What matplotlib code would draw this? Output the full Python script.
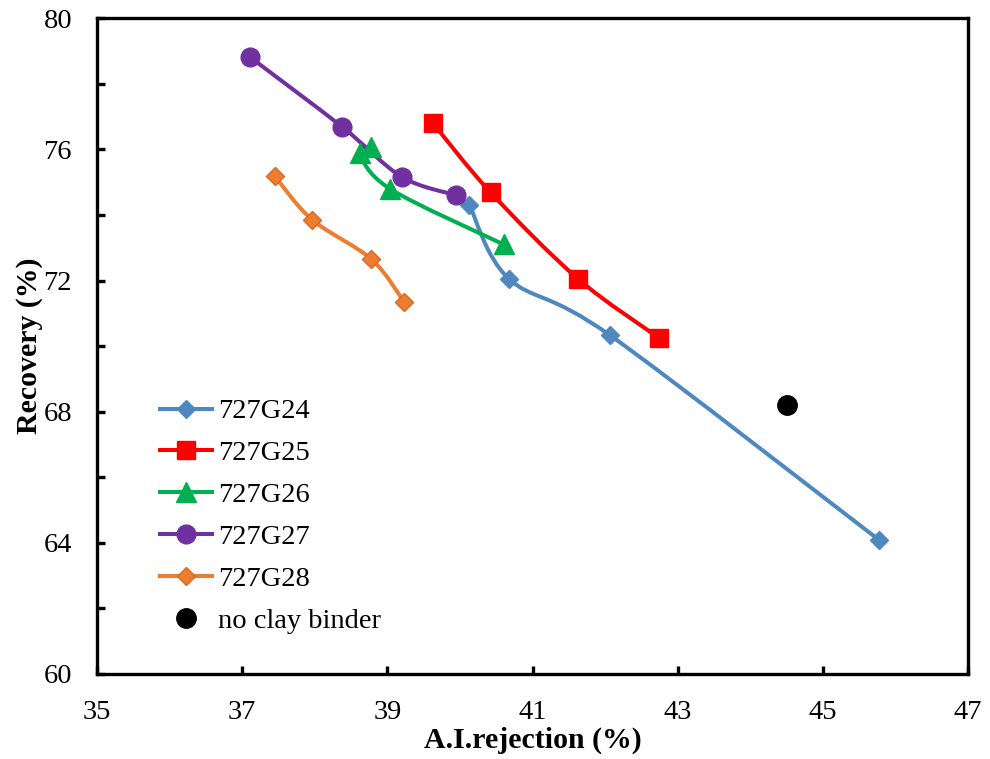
import matplotlib
matplotlib.use("Agg")
import matplotlib.pyplot as plt
import numpy as np
from matplotlib.path import Path
from matplotlib.patches import PathPatch
from matplotlib.lines import Line2D

plt.rcParams['font.family'] = ['Liberation Serif', 'DejaVu Serif']

# A.I. rejection (%) and recovery (%) per sample
g24_x = [40.13, 40.67, 42.06, 45.77]
g24_y = [74.30, 72.06, 70.34, 64.09]
g25_x = [39.63, 40.42, 41.62, 42.74]
g25_y = [76.79, 74.69, 72.06, 70.25]
g26_x = [40.60, 39.04, 38.62, 38.78]
g26_y = [73.10, 74.79, 75.88, 76.08]
g27_x = [37.11, 38.38, 39.20, 39.95]
g27_y = [78.81, 76.68, 75.16, 74.60]
g28_x = [37.45, 37.96, 38.78, 39.23]
g28_y = [75.18, 73.86, 72.65, 71.35]
noclay_x = [44.50]
noclay_y = [68.20]

series = [
    ("727G24", g24_x, g24_y, "#4F88BF", "#4F88BF", "D", 9.2),
    ("727G25", g25_x, g25_y, "#FF0000", "#FF0000", "s", 13.5),
    ("727G26", g26_x, g26_y, "#00B050", "#00B050", "^", 14),
    ("727G27", g27_x, g27_y, "#7030A0", "#7030A0", "o", 13.5),
    ("727G28", g28_x, g28_y, "#ED7D31", "#D9691F", "D", 9.2),
]


def smooth_path(xs, ys):
    # catmull-rom style bezier through the points (like a spreadsheet "smoothed line")
    p = np.column_stack([xs, ys]).astype(float)
    n = len(p)
    verts = [p[0]]
    codes = [Path.MOVETO]
    for i in range(n - 1):
        p0 = p[i - 1] if i > 0 else p[i]
        p3 = p[i + 2] if i + 2 < n else p[i + 1]
        c1 = p[i] + (p[i + 1] - p0) / 6.0
        c2 = p[i + 1] - (p3 - p[i]) / 6.0
        verts += [c1, c2, p[i + 1]]
        codes += [Path.CURVE4] * 3
    return Path(verts, codes)


fig = plt.figure(figsize=(9.9, 7.59), dpi=100)
ax = fig.add_axes([0.098, 0.112, 0.880, 0.864])

handles = []
for name, xs, ys, col, edge, mk, ms in series:
    ax.add_patch(PathPatch(smooth_path(xs, ys), facecolor='none', edgecolor=col,
                           lw=2.9, capstyle='round', joinstyle='round', zorder=2))
    ax.plot(xs, ys, ls='none', marker=mk, ms=ms, color=col, mec=edge, zorder=3)
    handles.append(Line2D([], [], color=col, lw=2.9, marker=mk, ms=ms, mec=edge))

ax.plot(noclay_x, noclay_y, ls='none', marker='o', ms=14, color='black', zorder=3)
handles.append(Line2D([], [], ls='none', color='black', marker='o', ms=14))

ax.set_xlim(35, 47)
ax.set_ylim(60, 80)
ax.set_xticks(np.arange(35, 48, 2))
ax.set_yticks(np.arange(60, 81, 4))
ax.set_yticks(np.arange(62, 80, 4), minor=True)

for s in ax.spines.values():
    s.set_linewidth(2.4)
ax.tick_params(axis='both', which='both', direction='in', length=6, width=2.4,
               labelsize=20.5)
ax.tick_params(axis='x', pad=19)
ax.tick_params(axis='y', pad=18)

ax.set_xlabel("A.I.rejection (%)", fontsize=21.5, fontweight='bold', labelpad=1)
ax.set_ylabel("Recovery (%)", fontsize=21.5, fontweight='bold', labelpad=0)

ax.legend(handles, ["727G24", "727G25", "727G26", "727G27", "727G28", "no clay binder"],
          loc='upper left', bbox_to_anchor=(0.072, 0.42), frameon=False,
          fontsize=20.5, handlelength=1.85, handletextpad=0.2, labelspacing=0.56,
          borderpad=0, borderaxespad=0)

fig.savefig("out.png", dpi=100)
